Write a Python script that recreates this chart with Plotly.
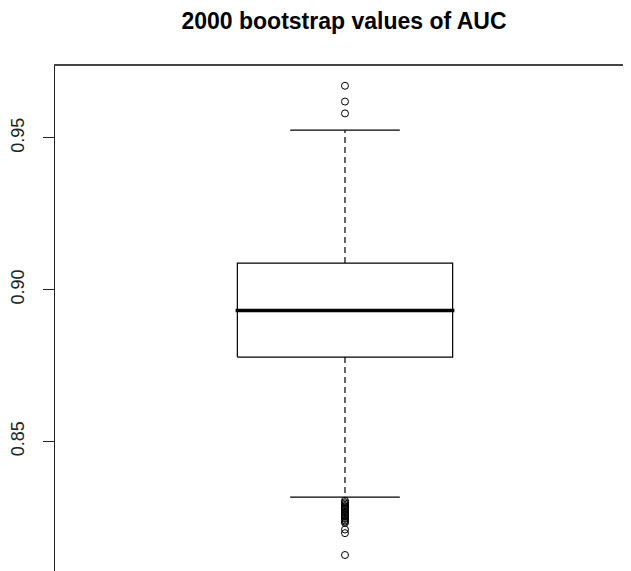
import plotly.graph_objects as go

title_text = "2000 bootstrap values of AUC"
box_position = [1.0]
q1 = [0.8778]
median = [0.8932]
q3 = [0.9088]
lower_whisker = [0.8317]
upper_whisker = [0.9526]
outliers_high = [0.9581, 0.9620, 0.9672]
outliers_low = [0.8305, 0.8300, 0.8296, 0.8291, 0.8287, 0.8283, 0.8280, 0.8276,
                0.8271, 0.8268, 0.8264, 0.8260, 0.8256, 0.8252, 0.8248, 0.8245,
                0.8240, 0.8236, 0.8232, 0.8210, 0.8198, 0.8126]
y_tick_vals = [0.85, 0.90, 0.95]
y_tick_text = ["0.85", "0.90", "0.95"]

BOX_HALF = 0.1856
CAP_HALF = 0.0945
c = box_position[0]

# page body has an 8px margin; figure is sized to end at the window edge
FIG_W, FIG_H = 623, 563

fig = go.Figure()

# dashed whiskers
fig.add_trace(go.Scatter(
    x=[c, c, None, c, c],
    y=[q3[0], upper_whisker[0], None, q1[0], lower_whisker[0]],
    mode="lines", line=dict(color="black", width=1.2, dash="6px,4px"),
    hoverinfo="skip", showlegend=False))
# whisker caps
fig.add_trace(go.Scatter(
    x=[c - CAP_HALF, c + CAP_HALF, None, c - CAP_HALF, c + CAP_HALF],
    y=[upper_whisker[0], upper_whisker[0], None, lower_whisker[0], lower_whisker[0]],
    mode="lines", line=dict(color="black", width=1.2),
    hoverinfo="skip", showlegend=False))
# box
fig.add_trace(go.Scatter(
    x=[c - BOX_HALF, c + BOX_HALF, c + BOX_HALF, c - BOX_HALF, c - BOX_HALF],
    y=[q1[0], q1[0], q3[0], q3[0], q1[0]],
    mode="lines", line=dict(color="black", width=1.2),
    hoverinfo="skip", showlegend=False))
# median
fig.add_trace(go.Scatter(
    x=[c - BOX_HALF - 0.003, c + BOX_HALF + 0.003],
    y=[median[0], median[0]],
    mode="lines", line=dict(color="black", width=3.5),
    hoverinfo="skip", showlegend=False))
# outliers
outs = outliers_high + outliers_low
fig.add_trace(go.Scatter(
    x=[c] * len(outs), y=outs, mode="markers",
    marker=dict(symbol="circle-open", size=7, color="black", line=dict(width=1)),
    hoverinfo="skip", showlegend=False))

fig.update_layout(
    width=FIG_W, height=FIG_H, autosize=False,
    margin=dict(l=45, r=0, t=58, b=0, pad=0),
    paper_bgcolor="white", plot_bgcolor="white",
    font=dict(family="Liberation Sans, Arial, sans-serif", color="#111"),
    title=dict(text="<b>" + title_text + "</b>", xref="container", x=336 / FIG_W,
               xanchor="center", yref="container", y=1 - 13 / FIG_H, yanchor="middle",
               font=dict(size=23, color="black")),
    xaxis=dict(range=[0.5, 0.5 + 578 / 582], side="top", showline=True,
               linecolor="#444", linewidth=2, showticklabels=False, ticks="",
               showgrid=False, zeroline=False),
    yaxis=dict(range=[0.80733, 0.97372], tickvals=y_tick_vals, ticktext=y_tick_text,
               ticks="outside", ticklen=11, tickwidth=1.2, tickcolor="#222",
               tickangle=-90, tickfont=dict(size=18, color="#222"),
               ticklabelstandoff=12,
               showline=True, linecolor="#222", linewidth=1.2,
               showgrid=False, zeroline=False),
)

fig.write_html("out.html")
